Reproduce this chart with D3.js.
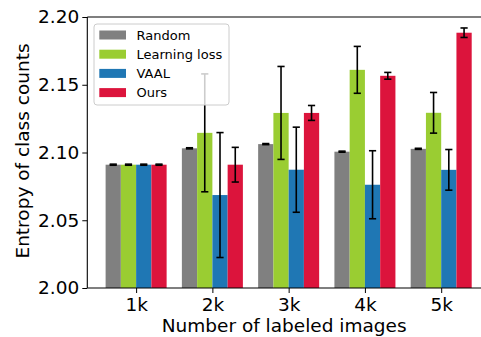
<!DOCTYPE html>
<html>
<head>
<meta charset="utf-8">
<script src="https://cdn.jsdelivr.net/npm/d3@7"></script>
<style>
  html, body { margin: 0; padding: 0; background: #fff; }
  svg { display: block; font-family: "DejaVu Sans", sans-serif; }
</style>
</head>
<body>
<svg id="chart" width="481" height="337"></svg>
<script>
// Labeled-set sizes on the x axis
const categories = ["1k", "2k", "3k", "4k", "5k"];

// Mean entropy of class counts per method
const randomMean = [2.0910, 2.1031, 2.1062, 2.1006, 2.1027];
const learningLossMean = [2.0910, 2.1145, 2.1292, 2.1610, 2.1293];
const vaalMean = [2.0910, 2.0686, 2.0873, 2.0762, 2.0872];
const oursMean = [2.0910, 2.0910, 2.1292, 2.1566, 2.1884];

// Standard deviations (error bars)
const randomErr = [0.0004, 0.0004, 0.0004, 0.0004, 0.0004];
const learningLossErr = [0.0004, 0.0435, 0.0343, 0.0173, 0.0150];
const vaalErr = [0.0004, 0.0461, 0.0314, 0.0251, 0.0150];
const oursErr = [0.0004, 0.0128, 0.0055, 0.0025, 0.0035];

const seriesNames = ["Random", "Learning loss", "VAAL", "Ours"];
const yTicks = [2.00, 2.05, 2.10, 2.15, 2.20];

const series = [
  { name: seriesNames[0], mean: randomMean, err: randomErr, color: "#808080" },
  { name: seriesNames[1], mean: learningLossMean, err: learningLossErr, color: "#9acd32" },
  { name: seriesNames[2], mean: vaalMean, err: vaalErr, color: "#1f77b4" },
  { name: seriesNames[3], mean: oursMean, err: oursErr, color: "#dc143c" }
];

const svg = d3.select("#chart");
const plotLeft = 87.3, plotRight = 490, plotTop = 17, plotBottom = 288;
const barW = 0.2;

const x = d3.scaleLinear().domain([-0.64, categories.length - 1 + 0.64]).range([plotLeft, plotRight]);
const y = d3.scaleLinear().domain([2.0, 2.2]).range([plotBottom, plotTop]);

const plot = svg.append("g");

// Bars, four per group, centred on the category tick
series.forEach((s, si) => {
  const off = (si - 1.5) * barW;
  const g = plot.append("g");
  g.selectAll("rect").data(s.mean).join("rect")
    .attr("x", (d, i) => x(i + off - barW / 2))
    .attr("width", x(barW) - x(0))
    .attr("y", d => y(d))
    .attr("height", d => y(2.0) - y(d))
    .attr("fill", s.color);
});

// Error bars with caps
series.forEach((s, si) => {
  const off = (si - 1.5) * barW;
  const g = plot.append("g").attr("stroke", "#000").attr("stroke-width", 1.6);
  s.mean.forEach((m, i) => {
    const cx = x(i + off);
    const y1 = y(m + s.err[i]), y0 = y(m - s.err[i]);
    g.append("line").attr("x1", cx).attr("x2", cx).attr("y1", y1).attr("y2", y0);
    g.append("line").attr("x1", cx - 3.6).attr("x2", cx + 3.6).attr("y1", y1).attr("y2", y1);
    g.append("line").attr("x1", cx - 3.6).attr("x2", cx + 3.6).attr("y1", y0).attr("y2", y0);
  });
});

// Axes
const xAxis = d3.axisBottom(x)
  .tickValues(d3.range(categories.length))
  .tickFormat(i => categories[i])
  .tickSize(5).tickPadding(4.5);
const yAxis = d3.axisLeft(y)
  .tickValues(yTicks)
  .tickFormat(d3.format(".2f"))
  .tickSize(5).tickPadding(3);

const gx = svg.append("g").attr("transform", `translate(0,${plotBottom})`).call(xAxis);
const gy = svg.append("g").attr("transform", `translate(${plotLeft},0)`).call(yAxis);
[gx, gy].forEach(g => {
  g.select(".domain").remove();
  g.selectAll(".tick line").attr("stroke", "#000").attr("stroke-width", 1);
  g.selectAll(".tick text").attr("fill", "#000").style("font-size", "18.5px")
    .style("font-family", "'DejaVu Sans', sans-serif");
});

// Frame
const frame = svg.append("g").attr("stroke", "#000").attr("stroke-width", 1.1).attr("fill", "none");
frame.append("line").attr("x1", plotLeft).attr("x2", plotRight).attr("y1", plotTop).attr("y2", plotTop);
frame.append("line").attr("x1", plotLeft).attr("x2", plotRight).attr("y1", plotBottom).attr("y2", plotBottom);
frame.append("line").attr("x1", plotLeft).attr("x2", plotLeft).attr("y1", plotTop).attr("y2", plotBottom);
frame.append("line").attr("x1", plotRight).attr("x2", plotRight).attr("y1", plotTop).attr("y2", plotBottom);

// Axis titles
svg.append("text")
  .attr("x", (plotLeft + plotRight) / 2 - 4.5).attr("y", 332)
  .attr("text-anchor", "middle")
  .style("font-size", "18.5px")
  .text("Number of labeled images");
svg.append("text")
  .attr("transform", `translate(29,${(plotTop + plotBottom) / 2 - 1.5}) rotate(-90)`)
  .attr("text-anchor", "middle")
  .style("font-size", "18.5px")
  .text("Entropy of class counts");

// Legend, semi-opaque over the bars
const legend = svg.append("g");
legend.append("rect")
  .attr("x", 94).attr("y", 24).attr("width", 135).attr("height", 81)
  .attr("rx", 3).attr("fill", "#fff").attr("fill-opacity", 0.8)
  .attr("stroke", "#cccccc").attr("stroke-width", 1);
series.forEach((s, si) => {
  const cy = 35 + si * 19.2;
  legend.append("rect")
    .attr("x", 99.3).attr("y", cy - 4.5).attr("width", 26.7).attr("height", 9)
    .attr("fill", s.color);
  legend.append("text")
    .attr("x", 136.5).attr("y", cy + 4.7)
    .style("font-size", "13px")
    .text(s.name);
});
</script>
</body>
</html>
